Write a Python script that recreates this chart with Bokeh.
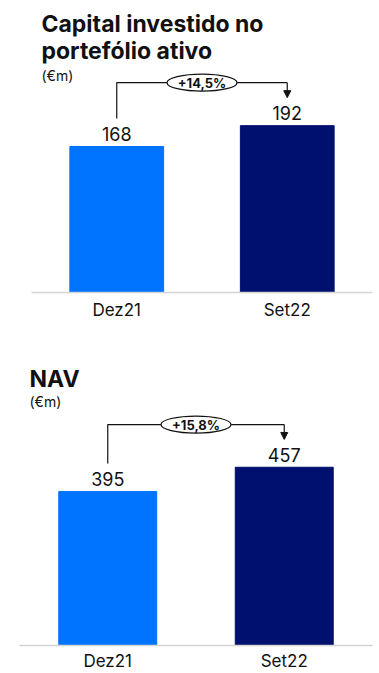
from bokeh.plotting import figure
from bokeh.models import FactorRange, Range1d, Arrow, NormalHead, Label, ColumnDataSource
from bokeh.layouts import column
from bokeh.core.properties import value
from bokeh.embed import file_html
from bokeh.resources import INLINE

categories = ["Dez21", "Set22"]
capital_values = [168, 192]
nav_values = [395, 457]
capital_growth = "+14,5%"
nav_growth = "+15,8%"
capital_title = ["Capital investido no", "portefólio ativo"]
nav_title = ["NAV"]
unit_label = "(€m)"
bar_colors = ["#0073FF", "#00106E"]

FONT = "Inter"
TXT = "#111111"


def make(values, growth, title_lines, H, frame_h, ymax, left, bar_w,
         title_x_px, title_size, title_mids, unit_y, standoff):
    fw = 379 - left - 7
    p = figure(width=379, height=H, x_range=FactorRange(*categories),
               y_range=Range1d(0, ymax), output_backend="svg",
               toolbar_location=None, min_border_left=left, min_border_right=7,
               min_border_top=0, min_border_bottom=H - frame_h)
    p.frame_align = False
    p.yaxis.visible = False
    p.grid.visible = False
    p.outline_line_color = None
    p.background_fill_color = "white"
    p.border_fill_color = "white"

    k = ymax / frame_h  # data units per pixel

    def ydat(px):
        return (frame_h - px) * k

    src = ColumnDataSource(dict(cat=categories, val=values, color=bar_colors,
                                lab=[str(v) for v in values],
                                ly=[v + 12.5 * k for v in values]))
    p.vbar(x="cat", top="val", width=bar_w, source=src, fill_color="color",
           line_color="color")
    p.text(x="cat", y="ly", text="lab", source=src, text_align="center",
           text_baseline="middle", text_font=value(FONT),
           text_font_size="18px", text_color=TXT)

    # growth bracket
    top = max(values) + 43 * k
    x0, x1 = 0.5, 1.5
    p.line(x=[x0, x0, x1], y=[values[0] + 28 * k, top, top],
           line_color=TXT, line_width=1.2)
    p.add_layout(Arrow(x_start=x1, y_start=top, x_end=x1,
                       y_end=values[1] + 28 * k, line_color=TXT, line_width=1.2,
                       end=NormalHead(size=7, fill_color=TXT, line_color=TXT)))
    p.ellipse(x=[1.0], y=[top], width=70, height=17, width_units="screen",
              height_units="screen", fill_color="white", line_color=TXT,
              line_width=1.2)
    p.text(x=[1.0], y=[top], text=[growth], text_align="center",
           text_baseline="middle", text_font=value(FONT),
           text_font_size="13px", text_font_style="bold", text_color=TXT)

    # titles
    tx = (title_x_px - left) / (fw / 2)
    for line, m in zip(title_lines, title_mids):
        p.add_layout(Label(x=tx, y=ydat(m), text=line, text_font=FONT,
                           text_font_size=title_size, text_font_style="bold",
                           text_color=TXT, text_baseline="middle"))
    p.add_layout(Label(x=tx, y=ydat(unit_y), text=unit_label, text_font=FONT,
                       text_font_size="14px", text_color=TXT,
                       text_baseline="middle"))

    ax = p.xaxis[0]
    ax.axis_line_color = "#d4d4d4"
    ax.axis_line_width = 1.5
    ax.major_tick_line_color = None
    ax.minor_tick_line_color = None
    ax.major_tick_out = 0
    ax.major_tick_in = 0
    ax.major_label_text_font = FONT
    ax.major_label_text_font_size = "17px"
    ax.major_label_text_color = TXT
    ax.major_label_standoff = standoff
    return p


p1 = make(capital_values, capital_growth, capital_title, H=340, frame_h=292,
          ymax=336, left=31, bar_w=0.55, title_x_px=41, title_size="23px",
          title_mids=[23.5, 50], unit_y=75, standoff=7)
p2 = make(nav_values, nav_growth, nav_title, H=333, frame_h=307, ymax=782,
          left=19, bar_w=0.555, title_x_px=29, title_size="23px",
          title_mids=[38.5], unit_y=61, standoff=5)

layout = column(p1, p2, spacing=0)
open("out.html", "w").write(file_html(layout, INLINE))
